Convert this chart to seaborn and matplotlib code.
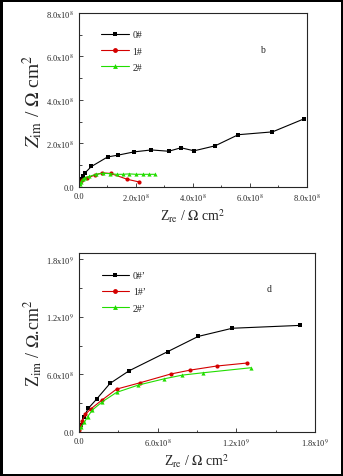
import matplotlib
matplotlib.use("Agg")
import matplotlib.pyplot as plt
import seaborn as sns
import pandas as pd
import numpy as np
from matplotlib.ticker import FuncFormatter, AutoMinorLocator

# ---- data (units of 1e8 Ohm cm^2) ----
top_labels = ["0#", "1#", "2#"]
top_x0 = [0.02, 0.08, 0.13, 0.21, 0.44, 1.01, 1.37, 1.93, 2.54, 3.15, 3.58, 4.04, 4.78, 5.59, 6.79, 7.88]
top_y0 = [0.12, 0.35, 0.51, 0.64, 0.94, 1.38, 1.46, 1.61, 1.70, 1.64, 1.80, 1.66, 1.89, 2.40, 2.53, 3.12]
top_x1 = [0.04, 0.12, 0.29, 0.56, 0.82, 1.11, 1.70, 2.11]
top_y1 = [0.23, 0.32, 0.40, 0.55, 0.645, 0.62, 0.35, 0.23]
top_x2 = [0.04, 0.07, 0.13, 0.21, 0.36, 0.59, 0.85, 1.09, 1.32, 1.53, 1.77, 2.00, 2.24, 2.47, 2.67]
top_y2 = [0.12, 0.23, 0.35, 0.43, 0.48, 0.58, 0.63, 0.61, 0.58, 0.58, 0.60, 0.58, 0.58, 0.58, 0.58]

bot_labels = ["0#\u2019", "1#\u2019", "2#\u2019"]
bot_x0 = [0.03, 0.15, 0.38, 0.71, 1.35, 2.37, 3.82, 6.76, 9.10, 11.7, 16.9]
bot_y0 = [0.2, 0.7, 1.6, 2.46, 3.43, 5.06, 6.37, 8.36, 9.95, 10.8, 11.1]
bot_x1 = [0.03, 0.10, 0.25, 0.50, 0.89, 1.73, 2.87, 4.66, 7.0, 8.5, 10.5, 12.8]
bot_y1 = [0.2, 0.6, 1.2, 1.85, 2.39, 3.3, 4.47, 5.13, 6.04, 6.45, 6.87, 7.18]
bot_x2 = [0.02, 0.15, 0.41, 0.66, 1.02, 1.78, 2.87, 4.53, 6.53, 7.9, 9.46, 13.1]
bot_y2 = [0.03, 0.49, 1.0, 1.59, 2.29, 3.15, 4.13, 4.89, 5.55, 5.93, 6.17, 6.69]

colors = ["#000000", "#d40000", "#22dd00"]
markers = ["s", "o", "^"]

sns.set_style("ticks")
plt.rcParams["font.family"] = ["Liberation Serif", "DejaVu Serif"]
plt.rcParams["mathtext.fontset"] = "stix"

def make_df(labels, xs, ys):
    rows = []
    for lab, x, y in zip(labels, xs, ys):
        for a, b in zip(x, y):
            rows.append({"x": a * 1e8, "y": b * 1e8, "s": lab})
    return pd.DataFrame(rows)

def fmt(val, pos):
    if abs(val) < 1e-6:
        return "0.0"
    e = int(np.floor(np.log10(abs(val)) + 1e-9))
    m = val / 10 ** e
    return r"%.1fx10$^{%d}$" % (m, e)

fig = plt.figure(figsize=(3.43, 4.77), dpi=100, edgecolor="black", linewidth=2.5)
ax1 = fig.add_axes([0.230, 0.606, 0.665, 0.365])
ax2 = fig.add_axes([0.230, 0.092, 0.688, 0.375])

def draw(ax, df, labels):
    sns.lineplot(data=df, x="x", y="y", hue="s", style="s", hue_order=labels,
                 style_order=labels, palette=colors, markers=markers, dashes=False,
                 sort=False, estimator=None, ax=ax, linewidth=0.8, markersize=3.0,
                 markeredgewidth=0)
    for sp in ax.spines.values():
        sp.set_linewidth(0.8)
    ax.xaxis.set_major_formatter(FuncFormatter(fmt))
    ax.yaxis.set_major_formatter(FuncFormatter(fmt))
    ax.xaxis.set_minor_locator(AutoMinorLocator(2))
    ax.yaxis.set_minor_locator(AutoMinorLocator(2))
    ax.tick_params(which="both", direction="in", labelsize=6, width=0.6)
    ax.tick_params(which="major", length=3)
    ax.tick_params(which="minor", length=1.8)
    leg = ax.legend(loc="upper left", bbox_to_anchor=(0.06, 0.95), frameon=False,
                    fontsize=7, handlelength=2.8, labelspacing=0.75, handletextpad=0.4)
    for h in leg.legend_handles:
        h.set_markersize(3.5)

df1 = make_df(top_labels, [top_x0, top_x1, top_x2], [top_y0, top_y1, top_y2])
draw(ax1, df1, top_labels)
ax1.set_xlim(0, 8e8)
ax1.set_ylim(0, 8e8)
ax1.set_xticks([0, 2e8, 4e8, 6e8, 8e8])
ax1.set_yticks([0, 2e8, 4e8, 6e8, 8e8])
ax1.set_xlabel(r"Z$_{\rm re}$ / $\Omega$ cm$^2$", fontsize=10, labelpad=2)
ax1.set_ylabel(r"$Z_{\rm im}$ / $\Omega$ cm$^2$", fontsize=14, labelpad=1)
ax1.text(6.35e8, 6.2e8, "b", fontsize=7)

df2 = make_df(bot_labels, [bot_x0, bot_x1, bot_x2], [bot_y0, bot_y1, bot_y2])
draw(ax2, df2, bot_labels)
ax2.set_xlim(0, 1.8e9)
ax2.set_ylim(0, 1.86e9)
ax2.set_xticks([0, 6e8, 1.2e9, 1.8e9])
ax2.set_yticks([0, 6e8, 1.2e9, 1.8e9])
ax2.set_xlabel(r"Z$_{\rm re}$ / $\Omega$ cm$^2$", fontsize=10, labelpad=2)
ax2.set_ylabel(r"Z$_{\rm im}$ / $\Omega$.cm$^2$", fontsize=13, labelpad=1)
ax2.text(14.3e8, 14.7e8, "d", fontsize=7)

fig.savefig("out.png", dpi=100)
